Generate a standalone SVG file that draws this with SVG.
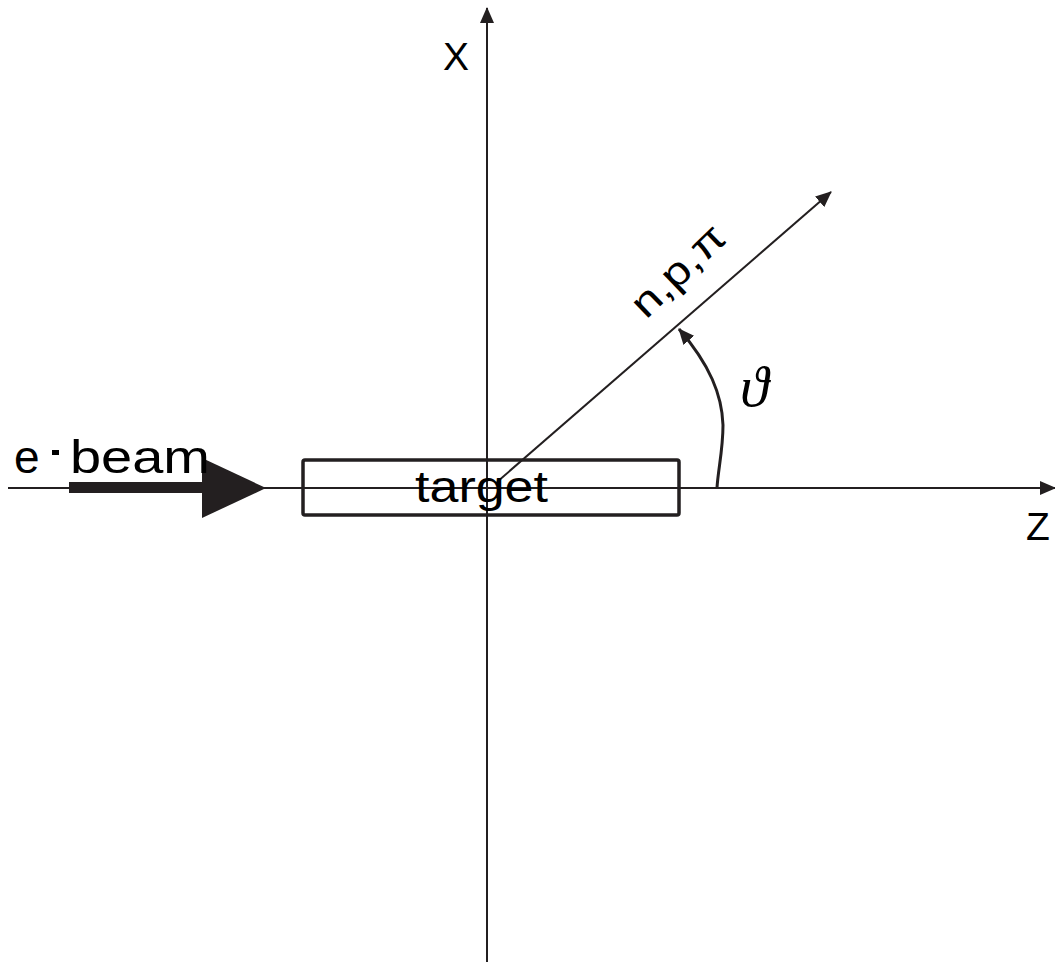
<svg xmlns="http://www.w3.org/2000/svg" width="1055" height="963" viewBox="0 0 1055 963">
<style>
.ax{stroke:#231f20;stroke-width:2;fill:none}
.lbl{font-family:"Liberation Sans",Arial,sans-serif;fill:#000}
</style>
<defs>
<marker id="ah" markerWidth="16" markerHeight="14" refX="15" refY="7" orient="auto" markerUnits="userSpaceOnUse">
<path d="M0,0 L16,7 L0,14 Z" fill="#231f20"/>
</marker>
</defs>
<rect width="1055" height="963" fill="#fff"/>
<g id="connectors">
<line class="ax" x1="8" y1="488" x2="1055" y2="488" marker-end="url(#ah)"/>
<line class="ax" x1="487" y1="962" x2="487" y2="8" marker-end="url(#ah)"/>
<line class="ax" x1="497" y1="482" x2="831" y2="192" marker-end="url(#ah)"/>
<path class="ax" style="stroke-width:3" d="M717,488 C718,470 723,450 723,425 C722,395 710,365 679,329" marker-end="url(#ah)"/>
</g>
<g id="target">
<rect x="303" y="460" width="376" height="55" rx="2" fill="none" stroke="#231f20" stroke-width="3.5"/>
<text class="lbl" x="415" y="502" font-size="44" textLength="133" lengthAdjust="spacingAndGlyphs">target</text>
</g>
<g id="beam">
<rect x="69" y="482" width="135" height="11" fill="#231f20"/>
<path d="M202,458 L266,488 L202,518 Z" fill="#231f20"/>
<text class="lbl" x="14" y="473" font-size="46">e</text>
<rect x="52" y="450" width="7" height="5" fill="#000"/>
<text class="lbl" x="70" y="473" font-size="46" textLength="140" lengthAdjust="spacingAndGlyphs">beam</text>
</g>
<g id="xlabel">
<text class="lbl" x="443" y="70" font-size="39">X</text>
</g>
<g id="zlabel">
<text class="lbl" x="1026" y="540" font-size="39">Z</text>
</g>
<g id="particles">
<text class="lbl" font-size="40" transform="translate(646,320) rotate(-44)" textLength="115" lengthAdjust="spacingAndGlyphs">n,p,π</text>
</g>
<g id="theta">
<text x="740" y="406" font-family="'Liberation Serif','DejaVu Serif',serif" font-style="italic" font-size="58" fill="#000">ϑ</text>
</g>
</svg>
